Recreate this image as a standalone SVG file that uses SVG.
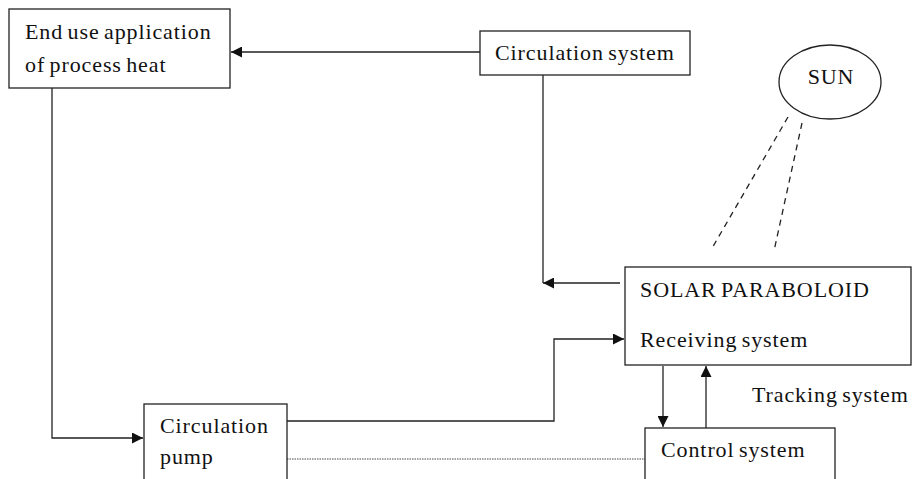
<svg xmlns="http://www.w3.org/2000/svg" width="912" height="479" viewBox="0 0 912 479">
<style>
.box{fill:#fff;stroke:#222;stroke-width:1.3}
.t{font-family:"Liberation Serif","Times New Roman",serif;font-size:22px;letter-spacing:0.9px;word-spacing:-2px;fill:#111}
.c{fill:none;stroke:#222;stroke-width:1.3}
.dash{fill:none;stroke:#222;stroke-width:1.3;stroke-dasharray:6,5}
.dot{fill:none;stroke:#444;stroke-width:1;stroke-dasharray:1.5,1}
</style>
<defs>
<marker id="ah" viewBox="0 0 10 10" refX="10" refY="5" markerWidth="11" markerHeight="11" markerUnits="userSpaceOnUse" orient="auto">
<path d="M0,0 L10,5 L0,10 z" fill="#111"/>
</marker>
</defs>
<g id="connectors">
<line class="c" x1="480" y1="52" x2="231" y2="52" marker-end="url(#ah)"/>
<polyline class="c" points="52,88 52,438 143,438" marker-end="url(#ah)"/>
<line class="c" x1="543" y1="75" x2="543" y2="283"/>
<line class="c" x1="620" y1="283" x2="543" y2="283" marker-end="url(#ah)"/>
<polyline class="c" points="287,421 554,421 554,339 624,339" marker-end="url(#ah)"/>
<line class="c" x1="663" y1="366" x2="663" y2="427" marker-end="url(#ah)"/>
<line class="c" x1="706" y1="428" x2="706" y2="366" marker-end="url(#ah)"/>
<line class="dot" x1="287" y1="459" x2="645" y2="459"/>
<line class="dash" x1="788" y1="117" x2="711" y2="250"/>
<line class="dash" x1="802" y1="123" x2="774" y2="251"/>
<text class="t" x="752" y="402">Tracking system</text>
</g>
<g id="end-use">
<rect class="box" x="9" y="9" width="221" height="79"/>
<text class="t" x="25" y="39">End use application</text>
<text class="t" x="25" y="72">of process heat</text>
</g>
<g id="circulation-system">
<rect class="box" x="480" y="31" width="210" height="44"/>
<text class="t" x="495" y="60">Circulation system</text>
</g>
<g id="sun">
<ellipse class="box" cx="830" cy="82" rx="51" ry="37"/>
<text class="t" x="831" y="84" text-anchor="middle">SUN</text>
</g>
<g id="solar-paraboloid">
<rect class="box" x="625" y="267" width="286" height="98"/>
<text class="t" x="640" y="297">SOLAR PARABOLOID</text>
<text class="t" x="640" y="347">Receiving system</text>
</g>
<g id="circulation-pump">
<rect class="box" x="144" y="404" width="143" height="90"/>
<text class="t" x="160" y="433">Circulation</text>
<text class="t" x="160" y="464">pump</text>
</g>
<g id="control-system">
<rect class="box" x="645" y="428" width="190" height="70"/>
<text class="t" x="661" y="457">Control system</text>
</g>
</svg>
